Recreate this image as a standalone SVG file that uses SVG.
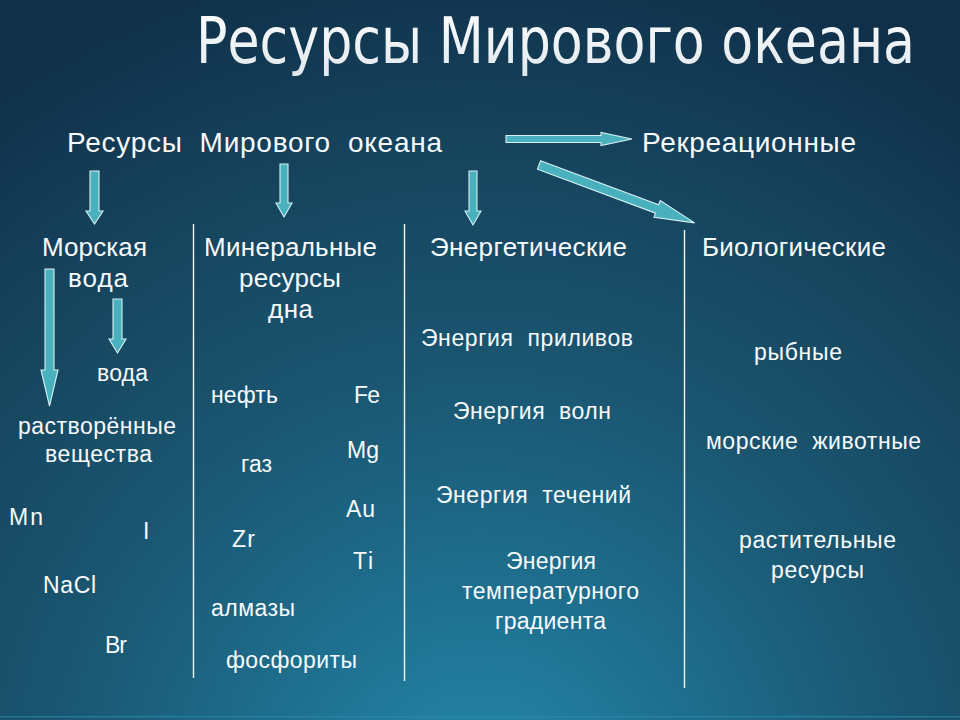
<svg xmlns="http://www.w3.org/2000/svg" width="960" height="720" viewBox="0 0 960 720">
  <defs>
    <radialGradient id="bg" gradientUnits="userSpaceOnUse" cx="480" cy="800" r="860">
      <stop offset="0" stop-color="#2589ab"/>
      <stop offset="0.22" stop-color="#1f7292"/>
      <stop offset="0.5" stop-color="#1a5671"/>
      <stop offset="0.78" stop-color="#16425b"/>
      <stop offset="1" stop-color="#10304a"/>
    </radialGradient>
    <linearGradient id="tg" x1="0" y1="0" x2="0" y2="1">
      <stop offset="0" stop-color="#ffffff"/>
      <stop offset="1" stop-color="#dfe7ec"/>
    </linearGradient>
  </defs>
  <style>
    .arr { fill: #49b1bd; stroke: #d6f1f3; stroke-width: 1.1; stroke-linejoin: miter; }
    .sep { stroke: #eef6f8; stroke-width: 1.4; fill: none; }
    text { font-family: "Liberation Sans", Arial, sans-serif; fill: #f7fafb; white-space: pre; }
    .h1 { font-size: 28px; }
    .h2 { font-size: 26px; }
    .it { font-size: 23px; }
    .title { font-family: "Liberation Sans Narrow", "DejaVu Sans Condensed", "Liberation Sans", sans-serif; font-size: 54px; fill: url(#tg); text-anchor: middle; }
  </style>

  <rect x="0" y="0" width="960" height="720" fill="url(#bg)"/>
  <rect x="0" y="716" width="960" height="1.5" fill="#2b8db0" opacity="0.6"/>

  <g id="title">
    <text class="title" transform="translate(555.5,63) scale(1,1.18)" x="0" y="0" textLength="719" lengthAdjust="spacingAndGlyphs">Ресурсы Мирового океана</text>
  </g>

  <g id="separators">
    <line class="sep" x1="193.5" y1="224" x2="193.5" y2="678"/>
    <line class="sep" x1="404.5" y1="224" x2="404.5" y2="681"/>
    <line class="sep" x1="684.5" y1="230" x2="684.5" y2="688"/>
  </g>

  <g id="connectors">
    <polygon class="arr" points="90,171 99,171 99,211 103,211 94.5,224 86,211 90,211"/>
    <polygon class="arr" points="280,164 288,164 288,203 292,203 284,217 276,203 280,203"/>
    <polygon class="arr" points="469,171 477,171 477,211 481,211 473,225 465,211 469,211"/>
    <polygon class="arr" points="45,269 54,269 54,370 58,370 49.5,406 41,370 45,370"/>
    <polygon class="arr" points="113,299 122,299 122,339 126,339 117.5,353 109,339 113,339"/>
    <polygon class="arr" points="506,135.5 601,135.5 601,132.5 632,139 601,145.5 601,142.5 506,142.5"/>
    <polygon class="arr" transform="translate(539,165) rotate(20.4)" points="0,-4.5 126,-4.5 126,-9 166,0 126,9 126,4.5 0,4.5"/>
  </g>

  <g id="node-root">
    <text class="h1" x="67" y="152" textLength="375">Ресурсы  Мирового  океана</text>
  </g>
  <g id="node-recreational">
    <text class="h1" x="642" y="152" textLength="214">Рекреационные</text>
  </g>

  <g id="node-sea-water">
    <text class="h2" x="42" y="256" textLength="105">Морская</text>
    <text class="h2" x="68" y="287" textLength="60">вода</text>
  </g>
  <g id="node-mineral">
    <text class="h2" x="204" y="256" textLength="173">Минеральные</text>
    <text class="h2" x="239" y="287" textLength="102">ресурсы</text>
    <text class="h2" x="268" y="318" textLength="45">дна</text>
  </g>
  <g id="node-energy">
    <text class="h2" x="430" y="256" textLength="197">Энергетические</text>
  </g>
  <g id="node-bio">
    <text class="h2" x="702" y="256" textLength="184">Биологические</text>
  </g>

  <g id="node-water">
    <text class="it" x="97" y="381" textLength="51">вода</text>
  </g>
  <g id="node-dissolved">
    <text class="it" x="18" y="434" textLength="158">растворённые</text>
    <text class="it" x="45" y="462" textLength="107">вещества</text>
  </g>
  <g id="node-mn"><text class="it" x="9" y="525" textLength="34">Mn</text></g>
  <g id="node-i"><text class="it" x="143" y="539">I</text></g>
  <g id="node-nacl"><text class="it" x="43" y="593" textLength="53">NaCl</text></g>
  <g id="node-br"><text class="it" x="105" y="653" textLength="22">Br</text></g>

  <g id="node-oil"><text class="it" x="211" y="403" textLength="67">нефть</text></g>
  <g id="node-fe"><text class="it" x="354" y="403" textLength="26">Fe</text></g>
  <g id="node-gas"><text class="it" x="241" y="472" textLength="31">газ</text></g>
  <g id="node-mg"><text class="it" x="347" y="458" textLength="32">Mg</text></g>
  <g id="node-au"><text class="it" x="346" y="517" textLength="29">Au</text></g>
  <g id="node-zr"><text class="it" x="232" y="547" textLength="23">Zr</text></g>
  <g id="node-ti"><text class="it" x="353" y="569" textLength="20">Ti</text></g>
  <g id="node-diamonds"><text class="it" x="211" y="616" textLength="84">алмазы</text></g>
  <g id="node-phosphorites"><text class="it" x="226" y="668" textLength="131">фосфориты</text></g>

  <g id="node-tides"><text class="it" x="421" y="346" textLength="212">Энергия  приливов</text></g>
  <g id="node-waves"><text class="it" x="453" y="419" textLength="158">Энергия  волн</text></g>
  <g id="node-currents"><text class="it" x="436" y="503" textLength="195">Энергия  течений</text></g>
  <g id="node-thermal">
    <text class="it" x="506" y="569" textLength="90">Энергия</text>
    <text class="it" x="462" y="599" textLength="177">температурного</text>
    <text class="it" x="495" y="629" textLength="111">градиента</text>
  </g>

  <g id="node-fish"><text class="it" x="754" y="360" textLength="88">рыбные</text></g>
  <g id="node-animals"><text class="it" x="706" y="449" textLength="215">морские  животные</text></g>
  <g id="node-plants">
    <text class="it" x="739" y="548" textLength="157">растительные</text>
    <text class="it" x="771" y="578" textLength="93">ресурсы</text>
  </g>
</svg>
